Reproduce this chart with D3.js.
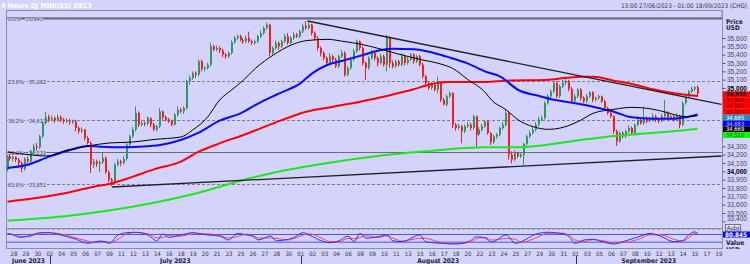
<!DOCTYPE html>
<html>
<head>
<meta charset="utf-8">
<script src="https://cdn.jsdelivr.net/npm/d3@7"></script>
<style>
	body { margin: 0; background: #d3d3fb; }
	svg { display: block; font-family: 'Liberation Sans Narrow', 'DejaVu Sans Condensed', 'Liberation Sans', sans-serif; }
</style>
</head>
<body>
<svg id="chart"></svg>
<script>
const w = 750;
const h = 264;

// 4 hour candles, open = previous close
const firstOpen = 34020;
const closes = [34180,34150,34170,34140,34100,34030,34150,34120,34240,34300,
	34290,34420,34580,34650,34620,34640,34610,34650,34620,34600,
	34610,34590,34600,34520,34480,34500,34400,34340,34080,34120,
	34090,34110,34160,33990,33900,33880,34080,34120,34100,34150,
	34320,34420,34500,34700,34560,34580,34570,34640,34560,34500,
	34540,34720,34650,34620,34600,34560,34680,34740,34720,34760,
	35080,35120,35180,35160,35320,35230,35240,35280,35500,35460,
	35480,35450,35400,35380,35420,35550,35600,35620,35580,35560,
	35600,35560,35540,35560,35620,35660,35720,35760,35420,35480,
	35540,35500,35560,35620,35540,35600,35640,35620,35680,35740,
	35720,35760,35660,35600,35480,35420,35360,35300,35380,35340,
	35260,35380,35420,35160,35240,35340,35440,35560,35480,35300,
	35240,35360,35420,35360,35300,35380,35280,35600,35300,35260,
	35320,35280,35380,35300,35340,35400,35320,35380,35280,35140,
	35060,35000,35040,34980,35060,34860,34800,34900,34940,34560,
	34520,34540,34480,34540,34560,34520,34660,34440,34500,34540,
	34600,34460,34350,34420,34440,34520,34560,34700,34200,34140,
	34220,34180,34200,34330,34420,34460,34500,34560,34620,34640,
	34820,34900,34960,35060,34900,35020,35060,35080,34990,34840,
	34900,34980,34880,34840,34900,34950,34860,34880,34900,34840,
	34760,34700,34660,34480,34360,34460,34420,34480,34520,34460,
	34560,34620,34580,34640,34600,34620,34660,34620,34600,34660,
	34700,34640,34660,34620,34660,34560,34820,34900,34960,34990,
	35010,34935];
const highs = [34200,34210,34190,34180,34160,34120,34170,34180,34260,34330,
	34340,34440,34600,34716,34680,34670,34660,34680,34670,34640,
	34640,34630,34620,34620,34540,34530,34510,34420,34360,34150,
	34140,34130,34220,34180,34010,33920,34100,34150,34140,34180,
	34340,34440,34530,34780,34720,34610,34600,34660,34650,34580,
	34560,34760,34730,34670,34640,34620,34700,34780,34760,34780,
	35100,35150,35200,35200,35340,35340,35260,35300,35540,35520,
	35510,35500,35470,35420,35440,35570,35620,35640,35640,35600,
	35630,35676,35580,35580,35640,35690,35740,35784,35770,35500,
	35570,35560,35580,35650,35660,35620,35670,35660,35700,35770,
	35804,35790,35770,35680,35620,35500,35440,35380,35420,35400,
	35360,35400,35456,35440,35260,35370,35470,35580,35570,35500,
	35320,35380,35456,35440,35380,35410,35400,35636,35620,35330,
	35340,35340,35416,35400,35370,35420,35420,35400,35400,35300,
	35160,35080,35070,35060,35136,35080,34880,34920,34960,34950,
	34580,34570,34560,34560,34590,34580,34680,34670,34530,34570,
	34616,34610,34470,34440,34460,34540,34590,34740,34720,34240,
	34250,34230,34220,34340,34440,34490,34530,34590,34656,34670,
	34840,34930,34980,35076,35080,35040,35096,35136,35100,35010,
	34930,34996,35000,34900,34930,34960,34960,34900,34920,34910,
	34860,34776,34720,34670,34500,34480,34480,34500,34550,34540,
	34576,34656,34640,34776,34660,34650,34696,34680,34640,34690,
	34856,34720,34690,34680,34700,34680,34840,34930,34976,35016,
	35020,35030];
const lows = [34000,34130,34120,34110,34060,33990,34010,34100,34100,34220,
	34250,34270,34400,34560,34590,34600,34580,34600,34590,34570,
	34580,34560,34570,34480,34450,34460,34370,34320,33980,34040,
	34050,33990,34090,33970,33870,33820,33860,34060,34060,34080,
	34130,34300,34400,34480,34530,34540,34540,34550,34530,34480,
	34480,34520,34620,34600,34580,34540,34550,34660,34700,34690,
	34740,35040,35100,35120,35140,35200,35200,35220,35260,35440,
	35440,35420,35370,35350,35360,35400,35530,35580,35560,35530,
	35540,35540,35516,35520,35540,35600,35640,35700,35380,35400,
	35460,35460,35480,35540,35520,35520,35580,35600,35600,35660,
	35700,35700,35630,35570,35450,35380,35330,35270,35280,35300,
	35240,35240,35360,35136,35140,35220,35320,35420,35450,35270,
	35096,35220,35340,35330,35260,35280,35256,35200,35240,35236,
	35240,35256,35260,35270,35280,35320,35290,35300,35260,35116,
	35030,34976,34980,34960,34936,34830,34790,34780,34880,34520,
	34490,34500,34336,34460,34520,34490,34500,34296,34420,34480,
	34520,34440,34316,34330,34390,34420,34500,34540,34140,34096,
	34120,34160,34160,34076,34310,34400,34440,34480,34540,34600,
	34620,34800,34880,34940,34876,34880,35000,35040,34960,34816,
	34820,34880,34850,34816,34820,34880,34830,34840,34860,34820,
	34740,34680,34640,34450,34304,34340,34396,34400,34460,34440,
	34440,34540,34560,34560,34580,34590,34600,34590,34576,34590,
	34640,34610,34620,34596,34600,34516,34540,34800,34880,34940,
	34960,34890];

// moving averages, read at bar numbers
const blackBars = [0,8,13,20,27,34,42,49,58,62,67,71,75,79,83,89,95,100,107,113,118,124,130,138,145,149,154,160,162,167,171,176,181,186,192,196,203,209,215,221,225,228,231];
const blackMA = [34232,34196,34184,34256,34304,34340,34352,34382,34412,34496,34652,34856,34976,35096,35236,35396,35516,35568,35584,35556,35528,35476,35416,35344,35288,35236,35104,34944,34856,34736,34616,34536,34504,34528,34616,34696,34744,34768,34752,34704,34664,34656,34669];
const blueBars = [0,6,14,21,27,31,38,44,51,58,64,71,78,84,91,98,102,107,113,119,125,129,136,141,147,154,160,165,171,178,182,189,196,203,209,216,223,227,231];
const blueMA = [34040,34072,34176,34256,34304,34296,34288,34296,34316,34376,34464,34608,34696,34816,34936,35056,35176,35276,35336,35396,35456,35472,35464,35436,35376,35296,35196,35136,34976,34904,34864,34824,34776,34716,34648,34632,34632,34648,34683];
const redBars = [0,9,20,29,34,42,49,58,64,71,79,89,100,109,118,127,136,142,147,160,167,180,192,196,203,209,216,223,231];
const redMA = [33636,33676,33744,33816,33848,33936,34024,34116,34236,34336,34436,34576,34716,34776,34836,34904,34984,35048,35072,35072,35088,35096,35136,35136,35088,35048,34984,34936,34904];
const greenBars = [0,20,35,49,64,79,89,105,122,140,160,169,180,192,203,214,225,231];
const greenMA = [33408,33464,33536,33624,33744,33896,33984,34088,34176,34240,34288,34288,34316,34376,34424,34456,34488,34510];

// trend lines [bar, price]
const trendDown = [[100.4, 35804], [239, 34804]];
const trendUp = [[35, 33812], [239, 34184]];

// fibonacci retracement
const fibPct = ['0.0%', '23.6%', '38.2%', '50.0%', '61.8%', '78.6%'];
const fibVals = [35843, 35082, 34613, 34231, 33851, 33310];

// stochastic
const stochBars = [0,2,4,7,9,11,14,17,20,23,27,29,31,33,34,37,40,43,47,50,52,54,58,62,67,71,74,77,80,82,84,88,90,94,96,99,101,105,108,111,114,116,118,120,124,127,129,132,138,140,145,150,155,157,160,162,167,170,172,177,181,186,188,190,193,196,199,203,207,212,215,219,223,226,228,230,231];
const stochK = [89,76,58,68,84,94,94,81,63,43,12,22,30,22,12,76,94,97,76,32,84,58,76,94,76,68,38,89,76,68,38,68,32,43,58,94,76,32,17,32,68,25,89,51,63,76,32,25,76,25,12,7,32,63,51,22,76,12,25,84,97,84,63,12,38,43,25,7,32,68,89,63,25,32,76,100,88];
const stochD = [84,82,67,63,76,89,94,88,72,53,28,17,26,26,17,44,85,95,86,54,58,71,67,85,85,72,53,64,82,72,53,53,50,38,50,76,85,54,25,25,50,47,57,70,57,70,54,29,50,50,19,10,20,48,57,37,49,44,19,55,90,90,74,38,25,40,34,16,20,50,78,76,44,29,54,88,92];

// right side tags
const tagLabels = ['34,935', '34,904', '34,904', '34,904', '34,685', '34,683', '34,669', '34,510'];
const tagFills = ['#ff0000', '#ff0000', '#ff0000', '#ff0000', '#1e8fc6', '#0000ff', '#000000', '#00ff00'];
const tagText = ['#000000', '#800000', '#800000', '#800000', '#ffffff', '#c8c8ff', '#ffffff', '#004000'];

const dayLabels = ['28','29','30','02','04','05','06','07','09','11','12','13','14','16','18','19','20','21','23','25','26','27','28','30','01','02','03','04','06','08','09','10','11','13','15','16','17','18','20','22','23','24','25','27','29','30','31','01','03','05','06','07','08','10','12','13','14','15','17','19'];
const monthLabels = ['June 2023', 'July 2023', 'August 2023', 'September 2023'];
const monthStart = [3, 24, 47];

const plotL = 7, plotR = 722, plotT = 18, plotB = 228.5;
const bg = '#d3d3fb';
const frame = '#8c8ca0';

const svg = d3.select('#chart').attr('width', w).attr('height', h);

const xScale = d3.scaleLinear().domain([0, 238]).range([7.5, 7.5 + 238 * 2.9873]);
const yScale = d3.scaleLinear().domain([33400, 35600]).range([221.33, 38]);
const sScale = d3.scaleLinear().domain([0, 100]).range([244.9, 231.9]);

svg.append('rect').attr('width', w).attr('height', h).attr('fill', bg);

const defs = svg.append('defs');
defs.append('clipPath').attr('id', 'mainClip').append('rect')
	.attr('x', plotL).attr('y', plotT).attr('width', plotR - plotL).attr('height', plotB - plotT + 1);
defs.append('clipPath').attr('id', 'stochClip').append('rect')
	.attr('x', plotL).attr('y', 229).attr('width', plotR - plotL).attr('height', 19);
defs.append('clipPath').attr('id', 'sideClip').append('rect')
	.attr('x', plotR).attr('y', 222).attr('width', w - plotR).attr('height', 27);

// title row
svg.append('text').attr('x', 1).attr('y', 7.5)
	.attr('font-size', 7).attr('font-weight', 'bold').attr('fill', '#ffffff')
	.text('4 Hours DJ MINI($5) DEC3');
svg.append('text').attr('x', 747).attr('y', 7.5).attr('text-anchor', 'end')
	.attr('font-size', 6.3).attr('fill', '#333344')
	.text('13:00 27/06/2023 - 01:00 18/09/2023 (CHG)');

// frames
svg.append('rect').attr('x', 6.5).attr('y', 10.5).attr('width', plotR - 6.5).attr('height', 7)
	.attr('fill', 'none').attr('stroke', frame);
svg.append('line').attr('x1', 6.5).attr('x2', 6.5).attr('y1', 10.5).attr('y2', 249)
	.attr('stroke', frame);
svg.append('line').attr('x1', plotR + 0.5).attr('x2', plotR + 0.5).attr('y1', 10.5).attr('y2', 249)
	.attr('stroke', frame);

const main = svg.append('g').attr('clip-path', 'url(#mainClip)');

// fib lines
fibVals.forEach((v, i) => {
	const yy = Math.round(yScale(v)) + 0.5;
	const solid = i === 0 || i === 3;
	main.append('line').attr('x1', plotL).attr('x2', plotR).attr('y1', yy).attr('y2', yy)
		.attr('stroke', solid ? '#6a6a78' : '#7c7c8c')
		.attr('stroke-width', i === 0 ? 2 : 1)
		.attr('stroke-dasharray', solid ? null : '3,2');
	const pct = main.append('text').attr('x', 8).attr('y', yy + 2)
		.attr('font-size', 5.5).attr('fill', '#333344')
		.attr('stroke', bg).attr('stroke-width', 1.5).attr('paint-order', 'stroke')
		.text(fibPct[i]);
	const len = pct.node().getComputedTextLength();
	main.append('text').attr('x', 8 + len + 5).attr('y', yy + 2)
		.attr('font-size', 5.5).attr('fill', '#333344')
		.attr('stroke', bg).attr('stroke-width', 1.5).attr('paint-order', 'stroke')
		.text(d3.format(',')(v));
});

// candles
const candles = closes.map((c, i) => ({
	i: i,
	o: i === 0 ? firstOpen : closes[i - 1],
	h: highs[i],
	l: lows[i],
	c: c,
}));

const upColor = '#2f9562';
const downColor = '#ff1a1a';
const cg = main.append('g');
cg.selectAll('rect.wick').data(candles).enter().append('rect')
	.attr('class', 'wick')
	.attr('x', (d) => Math.round(xScale(d.i)) - 1)
	.attr('y', (d) => yScale(d.h))
	.attr('width', 1)
	.attr('height', (d) => Math.max(1, yScale(d.l) - yScale(d.h)))
	.attr('fill', (d) => (d.c >= d.o ? upColor : downColor));
cg.selectAll('rect.body').data(candles).enter().append('rect')
	.attr('class', 'body')
	.attr('x', (d) => Math.round(xScale(d.i)) - 1)
	.attr('y', (d) => yScale(Math.max(d.o, d.c)))
	.attr('width', 2)
	.attr('height', (d) => Math.max(1, Math.abs(yScale(d.o) - yScale(d.c))))
	.attr('fill', (d) => (d.c >= d.o ? upColor : downColor));

// moving averages
const maLine = d3.line().x((d) => xScale(d[0])).y((d) => yScale(d[1])).curve(d3.curveMonotoneX);
const drawMA = (bars, vals, color, width) => {
	main.append('path')
		.attr('d', maLine(bars.map((b, i) => [b, vals[i]])))
		.attr('fill', 'none').attr('stroke', color).attr('stroke-width', width);
};
drawMA(greenBars, greenMA, '#1ee61e', 2);
drawMA(redBars, redMA, '#ff0000', 2);
drawMA(blueBars, blueMA, '#0a0aff', 2);
drawMA(blackBars, blackMA, '#000000', 1);

// trend lines
const tLine = d3.line().x((d) => xScale(d[0])).y((d) => yScale(d[1]));
[trendDown, trendUp].forEach((t) => {
	main.append('path').attr('d', tLine(t))
		.attr('fill', 'none').attr('stroke', '#202028').attr('stroke-width', 1.3);
});

// price axis (levels under the value tags are covered there)
const yAxis = d3.axisRight(yScale)
	.tickValues(d3.range(33400, 35601, 100).filter((v) => v < 34350 || v > 34950))
	.tickSize(3)
	.tickFormat(d3.format(','));
const ax = svg.append('g').attr('transform', `translate(${plotR + 0.5},0)`).call(yAxis);
ax.select('.domain').remove();
ax.selectAll('line').attr('stroke', '#555566');
ax.selectAll('text')
	.attr('x', 4.5)
	.attr('y', (d) => (d === 33400 ? -2.6 : 0))
	.attr('font-size', 6.5)
	.attr('font-family', null)
	.attr('fill', (d) => (d % 1000 === 0 ? '#000000' : '#4a4a5a'))
	.attr('font-weight', (d) => (d % 1000 === 0 ? 'bold' : null));

svg.append('text').attr('x', 726).attr('y', 23.5).attr('font-size', 6.5).attr('font-weight', 'bold')
	.attr('fill', '#222233').text('Price');
svg.append('text').attr('x', 726).attr('y', 30).attr('font-size', 6.5).attr('font-weight', 'bold')
	.attr('fill', '#222233').text('USD');

// last value tags
const tagTop = 91.3;
const tagH = 5.84;
const tags = svg.append('g');
tagLabels.forEach((t, i) => {
	tags.append('rect').attr('x', plotR + 1).attr('y', tagTop + i * tagH)
		.attr('width', w - plotR - 1).attr('height', tagH).attr('fill', tagFills[i]);
	tags.append('text').attr('x', plotR + 4).attr('y', tagTop + i * tagH + tagH - 0.8)
		.attr('font-size', 5.8).attr('font-weight', i === 0 ? 'bold' : null)
		.attr('fill', tagText[i]).text(t);
});

// stochastic panel
svg.append('line').attr('x1', 6.5).attr('x2', plotR + 0.5).attr('y1', 228.5).attr('y2', 228.5)
	.attr('stroke', frame);
svg.append('line').attr('x1', 6.5).attr('x2', plotR + 0.5).attr('y1', 248.5).attr('y2', 248.5)
	.attr('stroke', frame);
const st = svg.append('g').attr('clip-path', 'url(#stochClip)');
st.append('line').attr('x1', plotL).attr('x2', plotR).attr('y1', sScale(80)).attr('y2', sScale(80))
	.attr('stroke', '#5050ff').attr('stroke-width', 1);
st.append('line').attr('x1', plotL).attr('x2', plotR).attr('y1', sScale(20)).attr('y2', sScale(20))
	.attr('stroke', '#7a7aff').attr('stroke-width', 1.6);
const sLine = d3.line().x((d) => xScale(d[0])).y((d) => sScale(d[1])).curve(d3.curveMonotoneX);
st.append('path').attr('d', sLine(stochBars.map((b, i) => [b, stochD[i]])))
	.attr('fill', 'none').attr('stroke', '#ff4050').attr('stroke-width', 1);
st.append('path').attr('d', sLine(stochBars.map((b, i) => [b, stochK[i]])))
	.attr('fill', 'none').attr('stroke', '#3030ff').attr('stroke-width', 1);

const side = svg.append('g').attr('clip-path', 'url(#sideClip)');
side.append('rect').attr('x', 725.5).attr('y', 224.5).attr('width', 15).attr('height', 6.5)
	.attr('fill', '#e4e4fa').attr('stroke', '#555566').attr('stroke-width', 0.8);
side.append('text').attr('x', 733).attr('y', 229.8).attr('text-anchor', 'middle')
	.attr('font-size', 6).attr('fill', '#222233').text('Auto');
side.append('rect').attr('x', plotR + 1).attr('y', 231.5).attr('width', w - plotR - 1).attr('height', 6)
	.attr('fill', '#0000ff');
side.append('text').attr('x', plotR + 3).attr('y', 236.7).attr('font-size', 6.3).attr('font-weight', 'bold')
	.attr('fill', '#ffffff').text(d3.format('.3f')(80.845));
side.append('text').attr('x', 726).attr('y', 244.5).attr('font-size', 6.5).attr('font-weight', 'bold')
	.attr('fill', '#222233').text('Value');
side.append('text').attr('x', 726).attr('y', 251.5).attr('font-size', 6.5).attr('font-weight', 'bold')
	.attr('fill', '#222233').text('USD');

// date axis
const labelBar = (k) => 2.17 + 4 * k;
svg.append('g').selectAll('text').data(dayLabels).enter().append('text')
	.attr('x', (d, k) => xScale(labelBar(k)))
	.attr('y', 255.5)
	.attr('text-anchor', 'middle')
	.attr('font-size', 6)
	.attr('fill', '#333344')
	.text((d) => d);

const monthEdges = [plotL].concat(monthStart.map((k) => xScale(labelBar(k))), [plotR]);
monthStart.forEach((k) => {
	const xx = Math.round(xScale(labelBar(k))) + 0.5;
	svg.append('line').attr('x1', xx).attr('x2', xx).attr('y1', 256).attr('y2', 264)
		.attr('stroke', '#333344');
});
monthLabels.forEach((m, i) => {
	svg.append('text')
		.attr('x', (monthEdges[i] + monthEdges[i + 1]) / 2)
		.attr('y', 262.5)
		.attr('text-anchor', 'middle')
		.attr('font-size', 6.5)
		.attr('font-weight', 'bold')
		.attr('fill', '#222233')
		.text(m);
});
</script>
</body>
</html>
